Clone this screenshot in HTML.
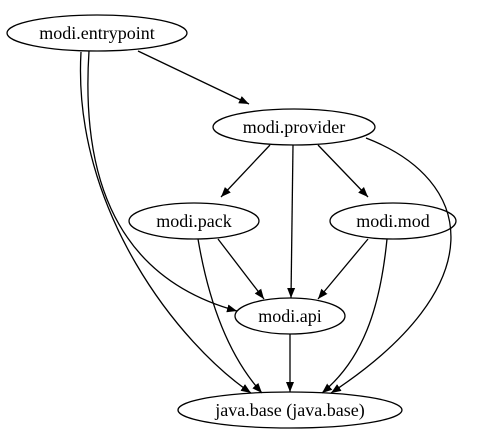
<!DOCTYPE html>
<html><head><meta charset="utf-8"><style>
html,body{margin:0;padding:0;background:#fff;}
svg{display:block;}
text{font-family:"Liberation Serif",serif;font-size:18px;fill:#000;}
</style></head><body>
<svg width="485" height="443" viewBox="0 0 485 443" xmlns="http://www.w3.org/2000/svg">
<defs>
<marker id="a" viewBox="0 0 10 10" refX="10" refY="5" markerWidth="10" markerHeight="10" markerUnits="userSpaceOnUse" orient="auto">
<path d="M0,1 L10,5 L0,9 z" fill="#000"/>
</marker>
</defs>
<g fill="none" stroke="#000" stroke-width="1.3">
<ellipse cx="97" cy="33" rx="90" ry="18"/>
<ellipse cx="294" cy="127" rx="81" ry="18"/>
<ellipse cx="194" cy="221" rx="65" ry="18"/>
<ellipse cx="393" cy="221" rx="63" ry="18"/>
<ellipse cx="290" cy="316" rx="55" ry="18"/>
<ellipse cx="290" cy="410" rx="112" ry="18"/>
<g marker-end="url(#a)">
<path d="M138,51 L249,104"/>
<path d="M89,51 C82,160 105,275 237,311"/>
<path d="M81,52 C72,210 180,345 251,393"/>
<path d="M270,145 L221,197"/>
<path d="M293,145 L291,298"/>
<path d="M318,145 L368,197"/>
<path d="M366,138 C475,180 495,285 331,393"/>
<path d="M218,239 L264,299"/>
<path d="M198,239 C210,310 232,360 262,393"/>
<path d="M368,239 L318,299"/>
<path d="M387,239 C380,310 362,360 322,393"/>
<path d="M290,334 L290,392"/>
</g>
</g>
<text x="97" y="39" text-anchor="middle">modi.entrypoint</text>
<text x="294" y="133" text-anchor="middle">modi.provider</text>
<text x="194" y="227" text-anchor="middle">modi.pack</text>
<text x="393" y="227" text-anchor="middle">modi.mod</text>
<text x="290" y="322" text-anchor="middle">modi.api</text>
<text x="290" y="416" text-anchor="middle">java.base (java.base)</text>
</svg>
</body></html>
